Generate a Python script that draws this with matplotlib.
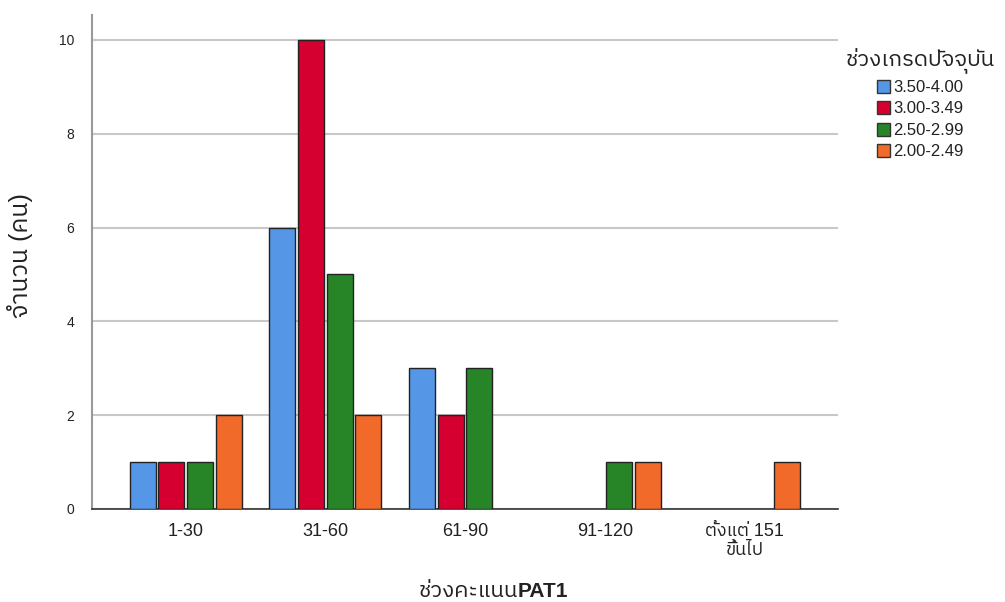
import matplotlib
matplotlib.use("Agg")
import matplotlib.pyplot as plt
import numpy as np
from matplotlib import font_manager as fm
from matplotlib.ft2font import FT2Font
from matplotlib.patches import Patch

# ---------------- data ----------------
categories = ["1-30", "31-60", "61-90", "91-120", "ตั้งแต่ 151\nขึ้นไป"]
series_labels = ["3.50-4.00", "3.00-3.49", "2.50-2.99", "2.00-2.49"]
s_350_400 = [1, 6, 3, 0, 0]
s_300_349 = [1, 10, 2, 0, 0]
s_250_299 = [1, 5, 3, 1, 0]
s_200_249 = [2, 2, 0, 1, 1]
y_ticks = [0, 2, 4, 6, 8, 10]
colors = ["#5596E6", "#D5002F", "#278527", "#F26A2A"]

# ---------------- fonts ----------------
thai_fonts = []
for f in fm.fontManager.ttflist:
    try:
        cm = FT2Font(f.fname).get_charmap()
    except Exception:
        continue
    if 0x0E08 in cm and f.name not in thai_fonts:
        thai_fonts.append(f.name)
thai_fonts.sort(key=lambda n: (0 if "Sans" in n else 1, n))
fam = ["Liberation Sans"] + thai_fonts[:2] + ["DejaVu Sans"]
plt.rcParams["font.family"] = fam

fig = plt.figure(figsize=(10.05, 6.02), dpi=100)
ax = fig.add_axes([92 / 1005, 93 / 602, (838 - 92) / 1005, (509 - 15) / 602])

series = [s_350_400, s_300_349, s_250_299, s_200_249]
x = np.arange(len(categories))
slot = 0.205
bw = 0.186
for i, (vals, c) in enumerate(zip(series, colors)):
    v = np.array(vals, dtype=float)
    mask = v > 0
    ax.bar(x[mask] + (i - 1.5) * slot, v[mask], width=bw, color=c,
           edgecolor="#222222", linewidth=1.0, zorder=3)

ax.set_xlim(-0.67, 4.67)
ax.set_ylim(0, 10.53)
ax.set_yticks(y_ticks)
ax.set_yticklabels([str(t) for t in y_ticks], fontsize=10, color="#222222")
ax.set_xticks(x)
ax.set_xticklabels(categories, fontsize=13, color="#222222", linespacing=1.15)
ax.tick_params(axis="both", length=0)
ax.tick_params(axis="x", pad=10)
ax.tick_params(axis="y", pad=13)
ax.yaxis.grid(True, color="#c8c8c8", linewidth=1.5, zorder=0)
ax.set_axisbelow(True)
for s in ["top", "right"]:
    ax.spines[s].set_visible(False)
ax.spines["left"].set_color("#999999")
ax.spines["left"].set_linewidth(1.5)
ax.spines["bottom"].set_color("#333333")
ax.spines["bottom"].set_linewidth(1.2)

# y label
fig.text(20 / 1005, 1 - 256 / 602, "จำนวน (คน)", rotation=90, fontsize=18,
         ha="center", va="center", color="#222222")

# x label: Thai part normal + bold PAT1
split = 518 / 1005
yb = 1 - 597 / 602
fig.text(split, yb, "ช่วงคะแนน", fontsize=16, ha="right", va="baseline", color="#222222")
fig.text(split, yb, "PAT1", fontsize=15, ha="left", va="baseline", weight="bold",
         color="#222222")

# legend
handles = [Patch(facecolor=c, edgecolor="#333333", linewidth=1.0) for c in colors]
leg = fig.legend(handles, series_labels, loc="upper left",
                 bbox_to_anchor=(834 / 1005, 1 - 36 / 602), bbox_transform=fig.transFigure,
                 frameon=False, title="ช่วงเกรดปัจจุบัน", title_fontsize=16,
                 fontsize=12, handlelength=0.8, handleheight=0.8, handletextpad=0.15,
                 labelspacing=0.38, borderpad=0.2)
for t in leg.get_texts():
    t.set_color("#222222")
leg.get_title().set_color("#222222")

fig.savefig("out.png", dpi=100)
